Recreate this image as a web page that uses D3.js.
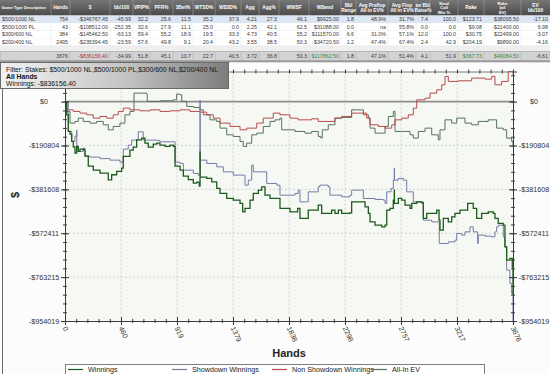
<!DOCTYPE html>
<html><head><meta charset="utf-8">
<script src="https://cdn.jsdelivr.net/npm/d3@7"></script>
<style>
html,body{margin:0;padding:0;background:#fbfbfb;overflow:hidden;}
svg{display:block;font-family:"Liberation Sans",Arial,sans-serif;}
</style></head><body>
<svg id="c" width="550" height="374"></svg>
<script>
// ---------- table data ----------
const headers = [["Game Type Description"],["Hands"],["$"],["bb/100"],["VPIP%"],["PFR%"],["3Bet%"],["WTSD%"],["W$SD%"],["Agg"],["Agg%"],["WWSF"],["W$wsd"],["Bbl","Range"],["Avg Preflop","All in EV%"],["Avg Flop","All in EV%"],["av Bbl","Raise%"],["Steal","Call","Win %"],["Rake"],["Rake","(all","EV)"],["EV","bb/100"]];
const rowNames = ["$500/1000 NL","$500/1000 PL","$300/600 NL","$200/400 NL"];
const rowValues = [
 ["754","-$346767.45","-45.99","32.2","25.6","11.5","35.2","37.9","4.21","27.3","46.1","$9925.00","1.8","48.9%","31.7%","7.4","100.0","$123.71","$38095.50","-17.10"],
 ["43","-$108512.00","-252.35","32.6","27.9","11.1","25.0","0.0","2.25","42.1","62.5","$31088.00","0.0","na","55.8%","0.0","0.0","$9.08","-$21400.00","6.98"],
 ["384","-$145462.50","-63.13","59.4","55.2","18.9","19.5","33.3","4.73","40.5","55.2","$111570.00","6.6","31.0%","57.1%","12.0","100.0","$30.75","$22499.00","-3.07"],
 ["2495","-$235394.45","-23.59","57.6","49.8","9.1","20.4","43.2","3.55","38.5","50.3","-$34720.50","1.2","47.4%","67.4%","2.4","42.9","$204.19","$9890.00","-4.16"]
];
const totalValues = ["3676","-$836156.40","-34.99","51.8","45.1","10.7","22.7","40.5","3.72","36.8","50.3","$117862.50","1.8","47.1%","51.4%","4.1","51.9","$367.73","$49084.50","-6.61"];
const filterLines = ["Filter: Stakes: $500/1000 NL,$500/1000 PL,$300/600 NL,$200/400 NL","All Hands","Winnings: -$836156.40"];

// ---------- chart data ----------
const totalHands = 3676;
const xTickLabels = ["0","460","919","1379","1838","2298","2757","3217","3676"];
const yTickValues = [0,-190804,-381608,-572411,-763215,-954019];
const yTickLabels = ["$0","-$190804","-$381608","-$572411","-$763215","-$954019"];
const seriesNames = ["Winnings","Showdown Winnings","Non Showdown Winnings","All-In EV"];

const winnings = [[0,0],[14,-57400],[27,-129600],[41,-141400],[55,-173100],[68,-196600],[82,-224000],[96,-194900],[109,-216600],[123,-206600],[150,-209700],[164,-237000],[191,-280600],[232,-298000],[287,-311000],[328,-311000],[355,-340000],[383,-318000],[424,-303600],[465,-289300],[478,-238400],[506,-238400],[533,-211000],[560,-198000],[588,-166200],[629,-158800],[656,-180500],[683,-198000],[724,-184900],[752,-180500],[779,-189200],[821,-194900],[862,-189200],[889,-194900],[903,-280600],[944,-298000],[971,-324000],[1012,-339300],[1053,-354500],[1081,-350200],[1102,-367600],[1108,-219700],[1109,-328400],[1163,-334000],[1204,-348900],[1245,-377600],[1272,-399300],[1327,-421100],[1381,-428500],[1436,-442800],[1458,-479400],[1477,-464600],[1518,-428500],[1545,-399300],[1586,-385000],[1614,-370600],[1641,-406700],[1682,-421100],[1737,-421100],[1764,-464600],[1846,-479400],[1887,-479400],[1909,-464600],[1928,-508100],[1969,-508100],[1996,-472000],[2051,-472000],[2078,-450200],[2106,-486300],[2160,-486300],[2188,-472000],[2215,-486300],[2243,-472000],[2270,-486300],[2338,-483700],[2352,-435900],[2434,-435900],[2462,-457600],[2489,-486300],[2503,-522900],[2544,-537200],[2599,-544600],[2626,-537200],[2640,-472000],[2667,-464600],[2694,-428500],[2702,-385000],[2703,-442800],[2735,-421100],[2763,-428500],[2790,-450200],[2831,-464600],[2845,-442800],[2886,-435900],[2927,-440200],[2940,-508100],[2968,-486300],[3009,-486300],[3050,-472000],[3069,-515500],[3077,-559000],[3104,-508100],[3145,-522900],[3173,-501100],[3200,-486300],[3241,-472000],[3282,-472000],[3304,-442800],[3337,-442800],[3350,-464600],[3378,-508100],[3419,-486300],[3473,-479400],[3514,-486300],[3528,-508100],[3555,-529800],[3596,-537200],[3610,-631600],[3624,-689500],[3651,-682100],[3670,-718600],[3676,-836156]];

const showdown = [[0,0],[27,-129600],[55,-173100],[82,-150000],[96,-124000],[97,-202000],[109,-216600],[150,-202300],[164,-237000],[205,-241400],[287,-248000],[369,-254500],[451,-263200],[465,-263200],[478,-206600],[519,-189200],[547,-167500],[601,-131400],[638,-131400],[642,-167500],[752,-168800],[779,-174900],[889,-174900],[903,-263200],[944,-268800],[971,-298000],[1053,-312300],[1094,-319700],[1108,6500],[1109,-254500],[1163,-268800],[1245,-283600],[1299,-305400],[1381,-319700],[1463,-319700],[1477,-363200],[1504,-341500],[1532,-276200],[1545,-305400],[1627,-305400],[1655,-355800],[1737,-363200],[1764,-406700],[1846,-406700],[1887,-399300],[1914,-385000],[1928,-435900],[1983,-435900],[1996,-392400],[2065,-392400],[2078,-370600],[2092,-363200],[2160,-370600],[2174,-406700],[2270,-414100],[2338,-406700],[2352,-385000],[2434,-385000],[2448,-421100],[2544,-425400],[2612,-428500],[2626,-442800],[2640,-392400],[2675,-377600],[2694,-341500],[2702,-289300],[2703,-341500],[2735,-334000],[2776,-341500],[2804,-392400],[2858,-435900],[2927,-435900],[2940,-515500],[3009,-522900],[3063,-522900],[3071,-616800],[3145,-609900],[3200,-602500],[3214,-573300],[3255,-580700],[3282,-566400],[3323,-544600],[3350,-566400],[3386,-616800],[3391,-580700],[3446,-585100],[3501,-588100],[3528,-566400],[3542,-544600],[3555,-537200],[3596,-588100],[3610,-631600],[3624,-733000],[3651,-790800],[3665,-834300],[3676,-954019]];

const nonShowdown = [[0,0],[14,-35700],[68,-42600],[123,-50000],[178,-57400],[232,-71800],[287,-64400],[342,-71800],[396,-57400],[437,-42600],[478,-28300],[533,-35700],[615,-40000],[698,-35700],[780,-42600],[862,-40000],[944,-35700],[1026,-42600],[1108,-45700],[1163,-57400],[1217,-71800],[1272,-93500],[1354,-107900],[1436,-122700],[1491,-115300],[1573,-93500],[1627,-71800],[1709,-50000],[1764,-57400],[1846,-71800],[1912,-79200],[2024,-74800],[2078,-86100],[2133,-86100],[2215,-71800],[2270,-64400],[2352,-50000],[2434,-50000],[2475,-71800],[2503,-100900],[2571,-107900],[2626,-115300],[2681,-100900],[2708,-79200],[2763,-71800],[2817,-57400],[2858,-28300],[2886,7800],[2954,15200],[2995,37000],[3050,51300],[3091,73100],[3118,109600],[3145,87900],[3227,90500],[3337,102200],[3446,97900],[3501,109600],[3528,73100],[3583,87900],[3637,131000],[3676,117862.5]];

const allInEV = [[0,0],[14,-42600],[41,-93500],[82,-86100],[109,-71800],[150,-86100],[205,-93500],[260,-86100],[314,-100900],[355,-122700],[396,-107900],[451,-93500],[492,-57400],[533,-42600],[566,37000],[670,32600],[675,900],[779,3500],[889,7800],[916,32600],[944,29600],[958,900],[999,-20900],[1053,-25200],[1108,-35700],[1135,-57400],[1190,-79200],[1245,-86100],[1272,-115300],[1327,-144400],[1381,-151400],[1436,-173100],[1463,-194900],[1491,-180500],[1532,-144400],[1573,-137000],[1627,-107900],[1682,-86100],[1723,-79200],[1764,-71800],[1778,-122700],[1846,-122700],[1887,-129600],[1969,-137000],[2024,-129600],[2078,-151400],[2100,-158800],[2111,-122700],[2160,-100900],[2215,-71800],[2270,-68700],[2352,-35700],[2434,-35700],[2448,-57400],[2489,-71800],[2503,-115300],[2544,-137000],[2612,-137000],[2626,-107900],[2653,-64400],[2694,-42600],[2708,-129600],[2763,-129600],[2831,-144400],[2858,-158800],[2899,-129600],[2954,-115300],[3009,-144400],[3063,-166200],[3077,-122700],[3118,-79200],[3173,-93500],[3214,-71800],[3282,-93500],[3337,-100900],[3391,-86100],[3473,-79200],[3528,-79200],[3542,-115300],[3596,-122700],[3624,-158800],[3665,-173100],[3676,-189200]];

// ---------- drawing ----------
const svg = d3.select("#c");
const defs = svg.append("defs");
const hg = defs.append("linearGradient").attr("id","hdr").attr("x1",0).attr("y1",0).attr("x2",0).attr("y2",1);
hg.append("stop").attr("offset","0%").attr("stop-color","#767676");
hg.append("stop").attr("offset","100%").attr("stop-color","#4a4a4a");
const fg = defs.append("linearGradient").attr("id","flt").attr("x1",0).attr("y1",0).attr("x2",1).attr("y2",0);
fg.append("stop").attr("offset","0%").attr("stop-color","#f2f2f2");
fg.append("stop").attr("offset","55%").attr("stop-color","#c4c4c4");
fg.append("stop").attr("offset","100%").attr("stop-color","#7c7c7c");

svg.append("rect").attr("width",550).attr("height",374).attr("fill","#fcfcfc");

// table
const colEdges = [0,51,70,110,133,150,173,193,215,241,259,279,309,341,356,388,416,430,458,484,521,550];
const tbl = svg.append("g");
tbl.append("rect").attr("x",0).attr("y",0).attr("width",550).attr("height",61).attr("fill","#efefef");
tbl.append("rect").attr("x",0).attr("y",0).attr("width",550).attr("height",15.5).attr("fill","url(#hdr)");
headers.forEach((h,i)=>{
  const x0 = colEdges[i], x1 = colEdges[i+1];
  if(i>0) tbl.append("line").attr("x1",x0).attr("x2",x0).attr("y1",0).attr("y2",15.5).attr("stroke","#9a9a9a").attr("stroke-width",0.6);
  const n = h.length, lh = 4.4;
  h.forEach((t,k)=>{
    tbl.append("text").attr("x",i===0?1.5:(x0+x1)/2).attr("y",7.75+(k-(n-1)/2)*lh+1.6)
      .attr("text-anchor",i===0?"start":"middle").attr("font-size",i===0?4.0:(n>2?4.2:4.8)).attr("font-weight","bold")
      .attr("fill","#ffffff").text(t);
  });
});
const rowH = 7.6, row0 = 15.5;
rowNames.forEach((name,r)=>{
  const ry = row0 + r*rowH;
  tbl.append("rect").attr("x",0).attr("y",ry).attr("width",550).attr("height",rowH)
     .attr("fill", r===0 ? "#dce6f4" : "#ffffff");
  tbl.append("line").attr("x1",0).attr("x2",550).attr("y1",ry+rowH).attr("y2",ry+rowH).attr("stroke","#e2e2e2").attr("stroke-width",0.5);
  const cells = [name].concat(rowValues[r]);
  cells.forEach((t,i)=>{
    tbl.append("text").attr("x", i===0 ? 2 : colEdges[i+1]-2).attr("y", ry+rowH/2+1.9)
      .attr("text-anchor", i===0 ? "start":"end").attr("font-size",5.3).attr("fill","#3a3a3a").text(t);
  });
});
for(let i=1;i<colEdges.length-1;i++){
  tbl.append("line").attr("x1",colEdges[i]).attr("x2",colEdges[i]).attr("y1",row0).attr("y2",row0+4*rowH).attr("stroke","#e4e4e4").attr("stroke-width",0.5);
}
// totals row
const ty = 51.5, tH = 9;
tbl.append("rect").attr("x",0).attr("y",ty).attr("width",550).attr("height",tH).attr("fill","#d3d3d3").attr("stroke","#9c9c9c").attr("stroke-width",0.6);
for(let i=2;i<colEdges.length-1;i++){
  tbl.append("line").attr("x1",colEdges[i]).attr("x2",colEdges[i]).attr("y1",ty).attr("y2",ty+tH).attr("stroke","#a8a8a8").attr("stroke-width",0.5);
}
totalValues.forEach((t,j)=>{
  const i = j+1;
  let col = "#3a3a3a";
  if(t.startsWith("-$")) col = "#b03838";
  else if(t.startsWith("$")) col = "#3a8a3a";
  tbl.append("text").attr("x", colEdges[i+1]-2).attr("y", ty+tH/2+1.9)
    .attr("text-anchor","end").attr("font-size",5.3).attr("fill",col).text(t);
});
svg.append("rect").attr("x",0).attr("y",60.5).attr("width",550).attr("height",1.8).attr("fill","#9a9a9a");

// panel border
svg.append("line").attr("x1",2.5).attr("x2",2.5).attr("y1",62).attr("y2",374).attr("stroke","#6a6a6a").attr("stroke-width",1);

// chart scales
const x = d3.scaleLinear().domain([0,totalHands]).range([65,513]);
const allVals = [winnings,showdown,nonShowdown,allInEV].flat().map(d=>d[1]);
const y = d3.scaleLinear().domain(d3.extent(allVals)).range([321,71.5]);

svg.append("rect").attr("x",65).attr("y",71.5).attr("width",448).attr("height",249.5).attr("fill","#f6f9f3");

const xMajor = xTickLabels.map((t,i)=>i*totalHands/(xTickLabels.length-1));
const xMinor = d3.range(0,41).map(i=>i*totalHands/40);
const yStep = (yTickValues[0]-yTickValues[1])/5;
const yMinor = d3.range(0,40).map(i=>yTickValues[yTickValues.length-1]+i*yStep).filter(v=>v<=y.domain()[1]);

// grid
const grid = svg.append("g");
xMajor.slice(1,-1).forEach(v=>grid.append("line").attr("x1",x(v)).attr("x2",x(v)).attr("y1",71.5).attr("y2",321).attr("stroke","#c9cdc6").attr("stroke-dasharray","2,2").attr("stroke-width",0.8));
yTickValues.slice(1,-1).forEach(v=>grid.append("line").attr("x1",65).attr("x2",513).attr("y1",y(v)).attr("y2",y(v)).attr("stroke","#c9cdc6").attr("stroke-dasharray","2,2").attr("stroke-width",0.8));
grid.append("line").attr("x1",65).attr("x2",513).attr("y1",y(0)).attr("y2",y(0)).attr("stroke","#8d8d8d").attr("stroke-width",1.6);

// lines
const line = d3.line().x(d=>x(d[0])).y(d=>y(d[1])).curve(d3.curveStepAfter);
const seriesData = [allInEV, nonShowdown, showdown, winnings];
const seriesColors = ["#56725a","#b84a4a","#7878a6","#1d5a1d"];
const seriesWidths = [1,1,1,1.3];
seriesData.forEach((s,i)=>{
  svg.append("path").datum(s).attr("d",line).attr("fill","none").attr("stroke",seriesColors[i]).attr("stroke-width",seriesWidths[i]);
});

// axes
const axCol = "#3c3c3c";
function styleAxis(g){ g.select(".domain").attr("stroke",axCol).attr("stroke-width",1); g.selectAll(".tick line").attr("stroke",axCol); g.selectAll("text").attr("fill","#333").attr("font-size",7.2).attr("font-family","'Liberation Sans',Arial,sans-serif"); }
// left
const gl = svg.append("g").attr("transform","translate(65,0)")
  .call(d3.axisLeft(y).tickValues(yTickValues).tickFormat((d,i)=>yTickLabels[i]).tickSizeOuter(0).tickSize(4));
styleAxis(gl); gl.selectAll(".tick line").attr("x2",-4).attr("x1",4);
gl.selectAll(".tick text").attr("x",-21).attr("text-anchor","middle");
const glm = svg.append("g").attr("transform","translate(65,0)").call(d3.axisLeft(y).tickValues(yMinor).tickFormat("").tickSizeOuter(0).tickSize(2));
styleAxis(glm); glm.select(".domain").remove(); glm.selectAll(".tick line").attr("x1",2);
// right
const gr = svg.append("g").attr("transform","translate(513,0)")
  .call(d3.axisRight(y).tickValues(yTickValues).tickFormat((d,i)=>yTickLabels[i]).tickSizeOuter(0).tickSize(4));
styleAxis(gr); gr.selectAll(".tick line").attr("x1",-4);
gr.selectAll(".tick text").attr("x",21).attr("text-anchor","middle");
const grm = svg.append("g").attr("transform","translate(513,0)").call(d3.axisRight(y).tickValues(yMinor).tickFormat("").tickSizeOuter(0).tickSize(2));
styleAxis(grm); grm.select(".domain").remove(); grm.selectAll(".tick line").attr("x1",-2);
// bottom
const gb = svg.append("g").attr("transform","translate(0,321)")
  .call(d3.axisBottom(x).tickValues(xMajor).tickFormat((d,i)=>xTickLabels[i]).tickSizeOuter(0).tickSize(4));
styleAxis(gb); gb.selectAll(".tick line").attr("y1",-4);
gb.selectAll(".tick text").attr("y",0).attr("dy",0).attr("text-anchor","start")
  .attr("transform","translate(-3,7) rotate(65)");
const gbm = svg.append("g").attr("transform","translate(0,321)").call(d3.axisBottom(x).tickValues(xMinor).tickFormat("").tickSizeOuter(0).tickSize(2));
styleAxis(gbm); gbm.select(".domain").remove(); gbm.selectAll(".tick line").attr("y1",-2);
// top
const gt = svg.append("g").attr("transform","translate(0,71.5)").call(d3.axisTop(x).tickValues(xMinor).tickFormat("").tickSizeOuter(0).tickSize(2));
styleAxis(gt); gt.select(".domain").attr("stroke","#7a7a7a"); gt.selectAll(".tick line").attr("y1",2);

// axis titles
svg.append("text").attr("x",289).attr("y",357).attr("text-anchor","middle").attr("font-size",11).attr("font-weight","bold").attr("fill","#222").text("Hands");
svg.append("text").attr("transform","translate(19,195) rotate(-90)").attr("text-anchor","middle").attr("font-size",11).attr("font-weight","bold").attr("fill","#222").text("$");

// filter box
svg.append("rect").attr("x",0.5).attr("y",62.5).attr("width",228).attr("height",26).attr("fill","url(#flt)").attr("stroke","#6a6a6a").attr("stroke-width",1);
filterLines.forEach((t,i)=>{
  svg.append("text").attr("x",6).attr("y",72+i*7.2).attr("font-size",6.8).attr("font-weight",i===1?"bold":"normal").attr("fill","#111").text(t);
});

// legend
const lg = svg.append("g");
lg.append("rect").attr("x",65.5).attr("y",364.5).attr("width",419).attr("height",20).attr("fill","#ffffff").attr("stroke","#7d7d7d");
const legendX = [68,172,272,372];
const legendColors = ["#1d5a1d","#7878a6","#b84a4a","#56725a"];
seriesNames.forEach((n,i)=>{
  lg.append("line").attr("x1",legendX[i]).attr("x2",legendX[i]+15).attr("y1",369.5).attr("y2",369.5).attr("stroke",legendColors[i]).attr("stroke-width",1.2);
  lg.append("text").attr("x",legendX[i]+20).attr("y",372).attr("font-size",7.2).attr("fill","#222").text(n);
});
</script>
</body></html>
